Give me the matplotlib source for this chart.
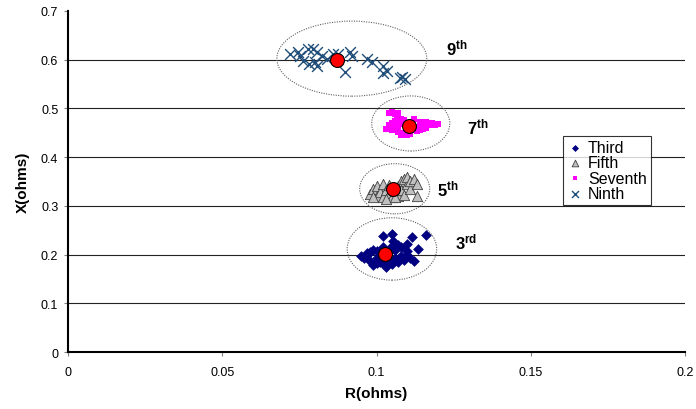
import matplotlib
matplotlib.use('agg')
import matplotlib.pyplot as plt
from matplotlib.patches import Ellipse

plt.rcParams['font.family'] = ['Liberation Sans', 'DejaVu Sans']
plt.rcParams['mathtext.fontset'] = 'custom'
plt.rcParams['mathtext.rm'] = 'Liberation Sans'
plt.rcParams['mathtext.bf'] = 'Liberation Sans:bold'

# harmonic impedance measurements, R and X in ohms
r_third = [0.095, 0.096, 0.097, 0.098, 0.098, 0.099, 0.100, 0.100, 0.101, 0.101, 0.102, 0.103,
           0.104, 0.104, 0.105, 0.106, 0.106, 0.107, 0.108, 0.108, 0.109, 0.110, 0.111, 0.112,
           0.099, 0.102, 0.105, 0.110, 0.102, 0.105, 0.1055, 0.1115, 0.116, 0.110, 0.1135,
           0.107, 0.103, 0.100, 0.097]
x_third = [0.198, 0.192, 0.200, 0.186, 0.205, 0.178, 0.192, 0.208, 0.185, 0.200, 0.183, 0.195,
           0.188, 0.205, 0.180, 0.193, 0.210, 0.185, 0.198, 0.215, 0.188, 0.200, 0.192, 0.186,
           0.210, 0.215, 0.217, 0.208, 0.238, 0.242, 0.228, 0.236, 0.240, 0.222, 0.211,
           0.220, 0.175, 0.182, 0.204]

r_fifth = [0.098, 0.099, 0.100, 0.100, 0.101, 0.102, 0.102, 0.103, 0.104, 0.104, 0.105, 0.106,
           0.107, 0.107, 0.108, 0.108, 0.109, 0.109, 0.110, 0.110, 0.111, 0.111, 0.112, 0.113,
           0.103, 0.106, 0.113, 0.099]
x_fifth = [0.325, 0.335, 0.320, 0.340, 0.328, 0.345, 0.318, 0.332, 0.325, 0.342, 0.318, 0.330,
           0.340, 0.320, 0.350, 0.332, 0.355, 0.322, 0.345, 0.360, 0.335, 0.350, 0.355, 0.345,
           0.315, 0.318, 0.320, 0.318]

r_seventh = [0.104, 0.105, 0.106, 0.1065, 0.107, 0.104, 0.105, 0.106, 0.107, 0.108, 0.109, 0.110,
             0.111, 0.112, 0.113, 0.114, 0.115, 0.116, 0.117, 0.118, 0.119, 0.120, 0.103, 0.105,
             0.107, 0.109, 0.111, 0.113, 0.115, 0.108, 0.110, 0.112, 0.114, 0.116, 0.106, 0.108]
x_seventh = [0.490, 0.493, 0.488, 0.482, 0.490, 0.465, 0.470, 0.475, 0.460, 0.468, 0.476, 0.455,
             0.470, 0.478, 0.462, 0.472, 0.468, 0.460, 0.465, 0.470, 0.466, 0.468, 0.458, 0.455,
             0.452, 0.450, 0.448, 0.453, 0.458, 0.478, 0.445, 0.460, 0.455, 0.472, 0.462, 0.445]

r_ninth = [0.0720, 0.0746, 0.0752, 0.0778, 0.0794, 0.0807, 0.0801, 0.0823, 0.0840, 0.0859,
           0.0875, 0.0898, 0.0914, 0.0921, 0.0969, 0.0985, 0.1021, 0.1034, 0.1083, 0.1092,
           0.0762, 0.0807, 0.0780, 0.1021, 0.1075]
x_ninth = [0.612, 0.616, 0.608, 0.622, 0.622, 0.616, 0.595, 0.608, 0.602, 0.612,
           0.612, 0.575, 0.616, 0.608, 0.602, 0.595, 0.587, 0.577, 0.565, 0.560,
           0.597, 0.587, 0.590, 0.572, 0.562]

# mean point of each harmonic
r_mean = [0.1027, 0.1053, 0.1105, 0.0872]
x_mean = [0.201, 0.335, 0.464, 0.600]

# dotted ellipse round each cluster: centre R, centre X, width, height
ell_r = [0.105, 0.1059, 0.1111, 0.092]
ell_x = [0.2115, 0.335, 0.469, 0.602]
ell_w = [0.029, 0.0227, 0.0253, 0.0486]
ell_h = [0.128, 0.103, 0.113, 0.154]

harm_num = ['3', '5', '7', '9']
harm_suf = ['rd', 'th', 'th', 'th']
lab_r = [0.129, 0.123, 0.1328, 0.126]
lab_x = [0.226, 0.335, 0.462, 0.626]

fig = plt.figure(figsize=(6.96, 4.10), dpi=100)
ax = fig.add_axes([0.0977, 0.139, 0.8865, 0.832])

for y in [0.1, 0.2, 0.3, 0.4, 0.5, 0.6]:
    ax.axhline(y, color='#222222', lw=0.8, zorder=0)

ax.scatter(r_third, x_third, marker='D', s=30, color='#000080', lw=0, label='Third', zorder=3)
ax.scatter(r_fifth, x_fifth, marker='^', s=55, facecolor='#c0c0c0', edgecolor='#404040',
           lw=0.6, label='Fifth', zorder=3)
ax.scatter(r_seventh, x_seventh, marker='s', s=16, color='#ff00ff', lw=0, label='Seventh', zorder=3)
ax.scatter(r_ninth, x_ninth, marker='x', s=60, color='#1f4e7a', lw=1.0, label='Ninth', zorder=3)
ax.plot(r_mean, x_mean, 'o', ms=10, mfc='#ff0000', mec='#000000', mew=0.8, ls='none', zorder=5)

for cr, cx, w, h in zip(ell_r, ell_x, ell_w, ell_h):
    ax.add_patch(Ellipse((cr, cx), w, h, fill=False, ls=(0, (1, 1.2)), lw=0.8,
                         edgecolor='#606060', zorder=2))

for n, suf, lr, lx in zip(harm_num, harm_suf, lab_r, lab_x):
    ax.text(lr, lx, r'$\mathbf{' + n + '^{' + suf + '}}$', fontsize=12,
            ha='center', va='center')

ax.set_xlim(0, 0.2)
ax.set_ylim(0, 0.7)
ax.set_xticks([0, 0.05, 0.1, 0.15, 0.2])
ax.set_xticklabels(['0', '0.05', '0.1', '0.15', '0.2'])
ax.set_yticks([0, 0.1, 0.2, 0.3, 0.4, 0.5, 0.6, 0.7])
ax.set_yticklabels(['0', '0.1', '0.2', '0.3', '0.4', '0.5', '0.6', '0.7'])
ax.tick_params(axis='both', labelsize=9, length=3, width=0.8, color='#808080')
ax.tick_params(axis='x', pad=7)
ax.tick_params(axis='y', pad=4)

ax.spines['top'].set_visible(False)
ax.spines['right'].set_visible(False)
ax.spines['left'].set_linewidth(1.5)
ax.spines['bottom'].set_linewidth(1.5)

ax.set_xlabel('R(ohms)', fontsize=11, fontweight='bold', labelpad=6)
ax.set_ylabel('X(ohms)', fontsize=11, fontweight='bold', labelpad=8)

leg = ax.legend(loc='upper left', bbox_to_anchor=(0.809, 0.666), bbox_transform=fig.transFigure,
                fontsize=11.5, frameon=True, fancybox=False, borderpad=0.25, labelspacing=0.02,
                handlelength=1.0, handletextpad=0.3, borderaxespad=0, scatterpoints=1,
                markerscale=0.65)
leg.get_frame().set_edgecolor('#000000')
leg.get_frame().set_linewidth(0.8)

fig.savefig('out.png', dpi=100)
